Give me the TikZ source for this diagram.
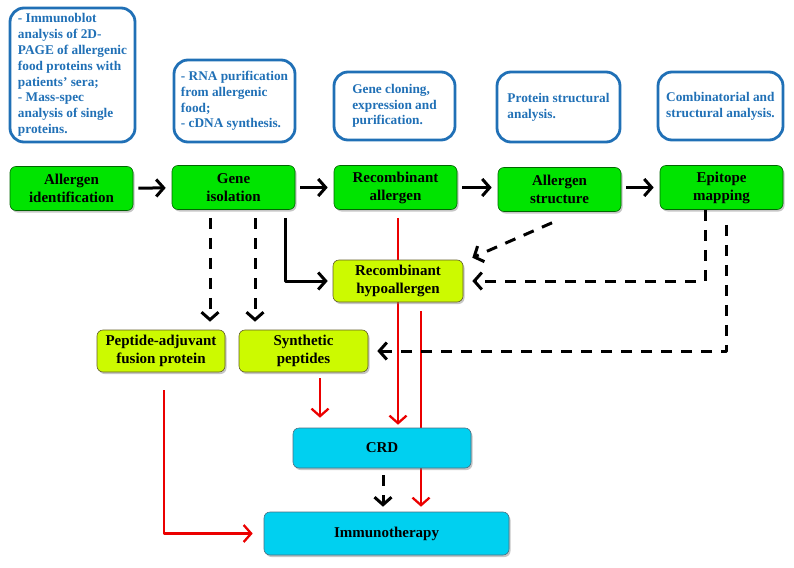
\documentclass[tikz,border=0pt]{standalone}
\usepackage{fontspec}
\setmainfont{Liberation Serif}
\usetikzlibrary{arrows.meta,shadows,backgrounds}
\definecolor{boxgreen}{RGB}{0,228,0}
\definecolor{boxlime}{RGB}{204,250,0}
\definecolor{boxcyan}{RGB}{0,208,240}
\definecolor{noteblue}{RGB}{32,112,182}
\definecolor{arrred}{RGB}{235,0,0}
\begin{document}
\begin{tikzpicture}[x=1pt,y=-1pt,line join=round,>={Straight Barb[length=7.5pt,width=17pt]},
  stepbox/.style={draw=green!40!black,line width=.6pt,fill=boxgreen,rounded corners=6pt,align=center,
    font=\fontsize{15}{18}\selectfont\bfseries,minimum width=123pt,minimum height=44pt,
    drop shadow={shadow xshift=1.5pt,shadow yshift=-2pt,opacity=.45}},
  limebox/.style={stepbox,fill=boxlime,draw=olive!60!black},
  cyanbox/.style={stepbox,fill=boxcyan,draw=cyan!45!black},
  notebox/.style={draw=noteblue,line width=2.8pt,rounded corners=14pt,text=noteblue,align=left,
    font=\fontsize{13.3}{15.8}\selectfont\bfseries,inner ysep=2pt,inner xsep=4pt},
  solidar/.style={->,line width=3pt},
  dashar/.style={->,line width=3pt,dash pattern=on 11pt off 9pt},
  redar/.style={->,draw=arrred,line width=2.3pt}]
\useasboundingbox (0,0) rectangle (794,567);
% method notes
\node[notebox,minimum width=125pt,minimum height=134pt] (note1) at (72.5,75) {- Immunoblot\\analysis of 2D-\\PAGE of allergenic\\food proteins with\\patients’ sera;\\- Mass-spec\\analysis of single\\proteins.};
\node[notebox,minimum width=121pt,minimum height=82pt] (note2) at (234.5,101) {- RNA purification\\from allergenic\\food;\\- cDNA synthesis.};
\node[notebox,minimum width=121pt,minimum height=68pt] (note3) at (394.5,106) {Gene cloning,\\expression and\\purification.};
\node[notebox,minimum width=123pt,minimum height=70pt] (note4) at (558.5,107) {Protein structural\\analysis.};
\node[notebox,minimum width=125pt,minimum height=68pt] (note5) at (720.5,106) {Combinatorial and\\structural analysis.};
% main steps
\node[stepbox] (ident) at (71.5,188.5) {Allergen\\identification};
\node[stepbox] (geneiso) at (233.5,187.5) {Gene\\isolation};
\node[stepbox] (recall) at (395.5,187.5) {Recombinant\\allergen};
\node[stepbox] (struct) at (559.5,189.5) {Allergen\\structure};
\node[stepbox] (epi) at (721.5,187.5) {Epitope\\mapping};
\node[limebox,minimum width=130pt,minimum height=42pt] (hypo) at (398,281) {Recombinant\\hypoallergen};
\node[limebox,minimum width=128pt,minimum height=42pt] (pept) at (161,351) {Peptide-adjuvant\\fusion protein};
\node[limebox,minimum width=129pt,minimum height=42pt] (synth) at (303.5,351) {Synthetic\\peptides};
\node[cyanbox,minimum width=178pt,minimum height=40pt] (crd) at (382,448) {CRD};
\node[cyanbox,minimum width=245pt,minimum height=43pt] (immuno) at (386.5,533.5) {Immunotherapy};
% connectors
\draw[solidar,shorten <=5pt,shorten >=6pt] (ident) -- (geneiso);
\draw[solidar,shorten <=5pt,shorten >=6pt] (geneiso) -- (recall);
\draw[solidar,shorten <=5pt,shorten >=6pt] (recall.east) -- (struct.west |- recall.east);
\draw[solidar,shorten <=5pt,shorten >=6pt] (struct.east |- epi.west) -- (epi.west);
\draw[dashar,shorten <=8pt,shorten >=8pt] ([xshift=-23.5pt]geneiso.south) -- ([xshift=-23.5pt]geneiso.south |- pept.north);
\draw[dashar,shorten <=8pt,shorten >=8pt] ([xshift=21.5pt]geneiso.south) -- ([xshift=21.5pt]geneiso.south |- synth.north);
\draw[solidar,shorten >=5pt] ([xshift=51.5pt,yshift=-8pt]geneiso.south) |- (hypo.west);
\draw[dashar] ([xshift=-7.5pt,yshift=-11pt]struct.south) -- ([xshift=9pt,yshift=2pt]hypo.north east);
\draw[dashar,shorten >=9pt] ([xshift=-16.5pt]epi.south) |- (hypo.east);
\draw[dashar,shorten >=9pt] ([xshift=4.5pt,yshift=-15pt]epi.south) |- (synth.east);
\draw[redar,shorten <=6pt,shorten >=10pt] ([xshift=16.5pt]synth.south) -- ([xshift=16.5pt]synth.south |- crd.north);
\draw[redar,shorten >=11pt] ([xshift=3pt,yshift=-18pt]pept.south) |- (immuno.west);
\draw[dashar,shorten <=7pt,shorten >=5pt] ([xshift=1pt]crd.south) -- ([xshift=1pt]crd.south |- immuno.north);
\begin{scope}[on background layer]
\draw[redar,shorten <=8pt,shorten >=3pt] ([xshift=2.5pt]recall.south) -- ([xshift=2.5pt]recall.south |- crd.north);
\draw[redar,shorten <=9pt,shorten >=5pt] ([xshift=23pt]hypo.south) -- ([xshift=23pt]hypo.south |- immuno.north);
\end{scope}
\end{tikzpicture}
\end{document}
